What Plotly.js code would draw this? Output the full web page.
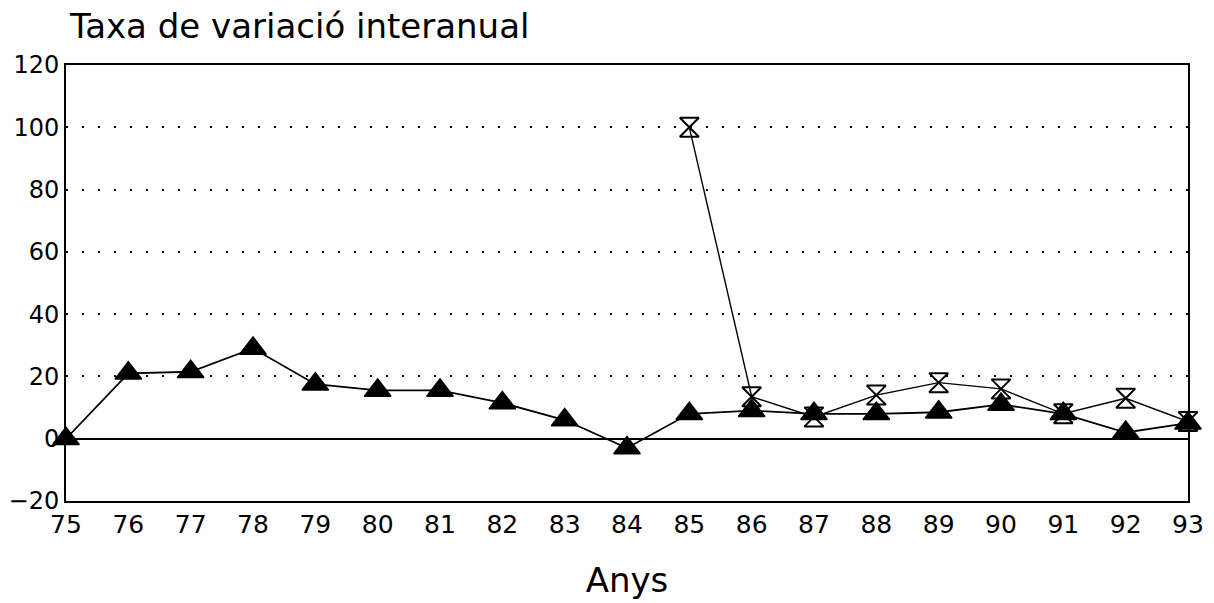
<!DOCTYPE html>
<html>
<head>
<meta charset="utf-8">
<script src="https://cdn.plot.ly/plotly-3.0.1.min.js"></script>
<style>html,body{margin:0;padding:0;background:#fff;}#chart{width:1214px;height:603px;}</style>
</head>
<body>
<div id="chart"></div>
<script>
var years = [75,76,77,78,79,80,81,82,83,84,85,86,87,88,89,90,91,92,93];
var seriesA = [0,21,21.5,29,17.5,15.5,15.5,11.5,6,-3,8,9,8,8,8.5,11,8,2,5];
var yearsB = [85,86,87,88,89,90,91,92,93];
var seriesB = [100,13.5,7,14,18,16,8,13,5.5];
var yTicks = [-20,0,20,40,60,80,100,120];
var xTickLabels = years.map(String);

var font = "DejaVu Sans, Liberation Sans, Arial, sans-serif";

var traceB = {
  x: yearsB, y: seriesB, mode: 'lines+markers', type: 'scatter',
  line: {color: '#000', width: 1.4},
  marker: {symbol: 'hourglass-open', size: 19, color: '#000', line: {width: 2, color: '#000'}},
  cliponaxis: false, hoverinfo: 'skip'
};
var traceA = {
  x: years, y: seriesA, mode: 'lines+markers', type: 'scatter',
  line: {color: '#000', width: 1.8},
  marker: {symbol: 'triangle-up', size: 23, color: '#000', line: {width: 1.5, color: '#000'}},
  cliponaxis: false, hoverinfo: 'skip'
};

var layout = {
  width: 1214, height: 603,
  margin: {l: 66, r: 26, t: 65, b: 102},
  paper_bgcolor: '#fff', plot_bgcolor: '#fff',
  showlegend: false,
  font: {family: font, color: '#000', size: 24},
  title: {text: 'Taxa de variació interanual', x: 0, xref: 'paper', xanchor: 'left', y: 0.957, yref: 'container', yanchor: 'middle', font: {size: 34, family: font, color: '#000'}, pad: {l: 4}},
  xaxis: {
    range: [75, 93], tickvals: years, ticktext: xTickLabels,
    showgrid: false, zeroline: false, showline: true, linecolor: '#000', linewidth: 2, mirror: true,
    ticks: '', tickfont: {size: 25, family: font},
    title: {text: 'Anys', font: {size: 34, family: font}, standoff: 30}
  },
  yaxis: {
    range: [-20, 120], tickvals: yTicks,
    showgrid: true, gridcolor: '#000', gridwidth: 2, griddash: '2px,14px',
    zeroline: true, zerolinecolor: '#000', zerolinewidth: 2,
    showline: true, linecolor: '#000', linewidth: 2, mirror: true,
    ticks: '', tickfont: {size: 24, family: font}
  }
};

Plotly.newPlot('chart', [traceB, traceA], layout, {staticPlot: true, displayModeBar: false});
</script>
</body>
</html>
